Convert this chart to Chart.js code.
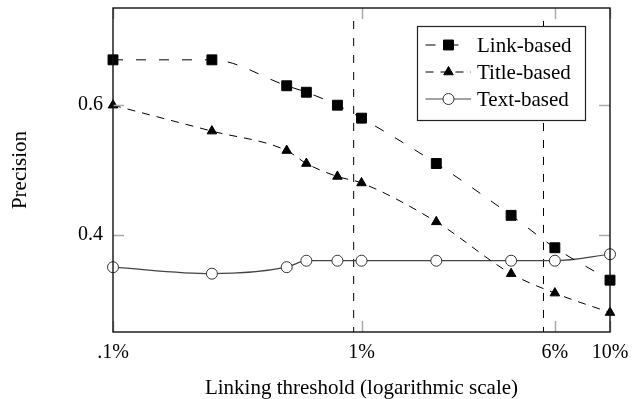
<!DOCTYPE html>
<html>
<head>
<meta charset="utf-8">
<script src="https://cdn.jsdelivr.net/npm/chart.js@4.4.0/dist/chart.umd.min.js"></script>
<style>
  html, body { margin: 0; padding: 0; background: #fff; }
  #wrap { width: 640px; height: 399px; }
</style>
</head>
<body>
<div id="wrap"><canvas id="myChart" width="640" height="399"></canvas></div>
<script>
// precision vs. linking threshold (in %)
const thresholds = [0.1, 0.25, 0.5, 0.6, 0.8, 1, 2, 4, 6, 10];
const linkBased  = [0.67, 0.67, 0.63, 0.62, 0.60, 0.58, 0.51, 0.43, 0.38, 0.33];
const titleBased = [0.60, 0.56, 0.53, 0.51, 0.49, 0.48, 0.42, 0.34, 0.31, 0.28];
const textBased  = [0.35, 0.34, 0.35, 0.36, 0.36, 0.36, 0.36, 0.36, 0.36, 0.37];
const seriesNames = ['Link-based', 'Title-based', 'Text-based'];

const xTickValues = [0.1, 1, 6, 10];
const xTickLabels = ['.1%', '1%', '6%', '10%'];
const yTickValues = [0.4, 0.6];
const yTickLabels = ['0.4', '0.6'];

// the two dashed vertical thresholds and the precision range they span
const cutThresholds = [0.93, 5.4];
const cutSpan = [0.73, 0.25];

const FONT = "'Liberation Serif', 'Times New Roman', serif";

function pairs(ys) {
  return thresholds.map(function (x, i) { return { x: x, y: ys[i] }; });
}

const series = [
  {
    label: seriesNames[0], data: pairs(linkBased),
    borderColor: '#000', borderWidth: 1, borderDash: [10, 13],
    cubicInterpolationMode: 'monotone',
    pointStyle: 'rect', pointRadius: 7, pointBackgroundColor: '#000',
    pointBorderColor: '#000', pointBorderWidth: 1, clip: false
  },
  {
    label: seriesNames[1], data: pairs(titleBased),
    borderColor: '#000', borderWidth: 1, borderDash: [8, 7],
    cubicInterpolationMode: 'monotone',
    pointStyle: 'triangle', pointRadius: 5.5, pointBackgroundColor: '#000',
    pointBorderColor: '#000', pointBorderWidth: 1, clip: false
  },
  {
    label: seriesNames[2], data: pairs(textBased),
    borderColor: '#444', borderWidth: 1.2, borderDash: [],
    cubicInterpolationMode: 'monotone',
    pointStyle: 'circle', pointRadius: 5.5, pointBackgroundColor: '#fff',
    pointBorderColor: '#333', pointBorderWidth: 1, clip: false
  }
];

// vertical cut lines go last so they are painted underneath
const cuts = cutThresholds.map(function (t) {
  return {
    label: '', data: cutSpan.map(function (y) { return { x: t, y: y }; }),
    borderColor: '#000', borderWidth: 1, borderDash: [8, 9],
    pointRadius: 0, tension: 0, isCut: true
  };
});

// frame, inward gray ticks and the boxed legend inside the plot
const framePlugin = {
  id: 'frame',
  afterDraw(chart) {
    const ctx = chart.ctx;
    const a = chart.chartArea;
    const xs = chart.scales.x, ys = chart.scales.y;
    ctx.save();

    ctx.strokeStyle = '#aaa';
    ctx.lineWidth = 1.5;
    ctx.setLineDash([]);
    const tl = 11;
    xTickValues.forEach(function (v) {
      const px = Math.round(xs.getPixelForValue(v)) + 0.5;
      ctx.beginPath();
      ctx.moveTo(px, a.bottom); ctx.lineTo(px, a.bottom - tl);
      ctx.moveTo(px, a.top); ctx.lineTo(px, a.top + tl);
      ctx.stroke();
    });
    yTickValues.forEach(function (v) {
      const py = Math.round(ys.getPixelForValue(v)) + 0.5;
      ctx.beginPath();
      ctx.moveTo(a.left, py); ctx.lineTo(a.left + tl, py);
      ctx.moveTo(a.right, py); ctx.lineTo(a.right - tl, py);
      ctx.stroke();
    });

    ctx.strokeStyle = '#111';
    ctx.lineWidth = 1.4;
    ctx.strokeRect(a.left, a.top, a.right - a.left, a.bottom - a.top);

    // legend box
    const bx = a.right - 193, by = a.top + 18, bw = 168, bh = 94;
    ctx.fillStyle = '#fff';
    ctx.fillRect(bx, by, bw, bh);
    ctx.strokeStyle = '#222';
    ctx.lineWidth = 1.2;
    ctx.strokeRect(bx + 0.5, by + 0.5, bw, bh);

    const dsets = chart.data.datasets.filter(function (d) { return !d.isCut; });
    dsets.forEach(function (d, i) {
      const ry = by + 19 + i * 27;
      ctx.strokeStyle = d.borderColor;
      ctx.lineWidth = d.borderWidth;
      ctx.setLineDash(d.borderDash || []);
      ctx.beginPath();
      ctx.moveTo(bx + 8.5, ry);
      ctx.lineTo(bx + 54, ry);
      ctx.stroke();
      ctx.setLineDash([]);
      ctx.fillStyle = d.pointBackgroundColor;
      ctx.strokeStyle = d.pointBorderColor;
      ctx.lineWidth = d.pointBorderWidth;
      Chart.helpers.drawPoint(ctx, {
        pointStyle: d.pointStyle, radius: d.pointRadius, rotation: 0,
        borderWidth: d.pointBorderWidth
      }, bx + 31.5, ry);
      ctx.fillStyle = '#000';
      ctx.font = '21px ' + FONT;
      ctx.textAlign = 'left';
      ctx.textBaseline = 'middle';
      ctx.fillText(d.label, bx + 60, ry + 1);
    });
    ctx.restore();
  }
};

new Chart(document.getElementById('myChart').getContext('2d'), {
  type: 'line',
  data: { datasets: series.concat(cuts) },
  options: {
    responsive: false,
    animation: false,
    devicePixelRatio: 1,
    layout: { padding: { top: 5, right: 30, left: 0, bottom: 0 } },
    plugins: { legend: { display: false }, tooltip: { enabled: false } },
    scales: {
      x: {
        type: 'logarithmic', min: 0.1, max: 10,
        grid: { display: false, drawTicks: false },
        border: { display: false },
        afterBuildTicks: function (s) {
          s.ticks = xTickValues.map(function (v) { return { value: v }; });
        },
        afterFit: function (s) {
          s.height = 67;
          s.paddingLeft = 0; s.paddingRight = 0;
        },
        ticks: {
          autoSkip: false, maxRotation: 0, padding: 9, color: '#000',
          font: { family: FONT, size: 20 },
          callback: function (v) { return xTickLabels[xTickValues.indexOf(v)]; }
        },
        title: {
          display: true, text: 'Linking threshold (logarithmic scale)', color: '#000',
          font: { family: FONT, size: 21, lineHeight: 1 }, padding: { top: 0, bottom: 0 }
        }
      },
      y: {
        min: 0.25, max: 0.75,
        grid: { display: false, drawTicks: false },
        border: { display: false },
        afterBuildTicks: function (s) {
          s.ticks = yTickValues.map(function (v) { return { value: v }; });
        },
        afterFit: function (s) {
          s.width = 113;
          s.paddingTop = 0; s.paddingBottom = 0;
        },
        ticks: {
          padding: 10, color: '#000',
          font: { family: FONT, size: 20 },
          callback: function (v) { return yTickLabels[yTickValues.indexOf(v)]; }
        },
        title: {
          display: true, text: 'Precision', color: '#000',
          font: { family: FONT, size: 21, lineHeight: 1 }, padding: { top: 10, bottom: 0 }
        }
      }
    }
  },
  plugins: [framePlugin]
});
</script>
</body>
</html>
